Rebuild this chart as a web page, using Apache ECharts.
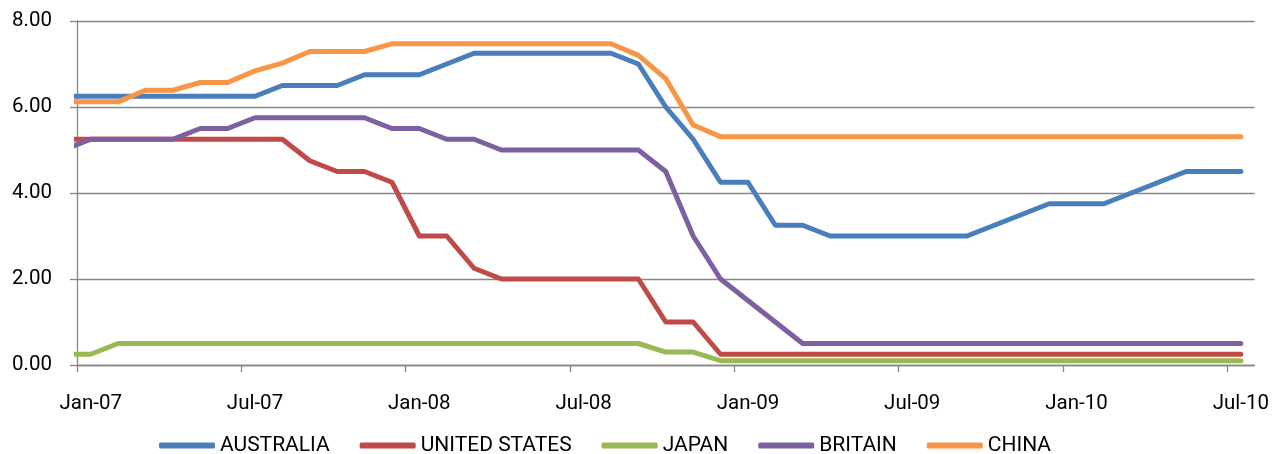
<!DOCTYPE html>
<html>
<head>
<meta charset="utf-8">
<script src="https://cdn.jsdelivr.net/npm/echarts@6/dist/echarts.min.js"></script>
<style>
  html, body { margin: 0; padding: 0; background: #fff; }
  #main { width: 1272px; height: 454px; }
</style>
</head>
<body>
<div id="main"></div>
<script>
// monthly policy rates, Dec-06 .. Jul-10 (Dec-06 sits left of the axis and is clipped)
const months = [
  'Dec-06',
  'Jan-07', 'Feb-07', 'Mar-07', 'Apr-07', 'May-07', 'Jun-07', 'Jul-07', 'Aug-07', 'Sep-07', 'Oct-07', 'Nov-07', 'Dec-07',
  'Jan-08', 'Feb-08', 'Mar-08', 'Apr-08', 'May-08', 'Jun-08', 'Jul-08', 'Aug-08', 'Sep-08', 'Oct-08', 'Nov-08', 'Dec-08',
  'Jan-09', 'Feb-09', 'Mar-09', 'Apr-09', 'May-09', 'Jun-09', 'Jul-09', 'Aug-09', 'Sep-09', 'Oct-09', 'Nov-09', 'Dec-09',
  'Jan-10', 'Feb-10', 'Mar-10', 'Apr-10', 'May-10', 'Jun-10', 'Jul-10'
]

const australia = [
  6.25,
  6.25, 6.25, 6.25, 6.25, 6.25, 6.25, 6.25, 6.50, 6.50, 6.50, 6.75, 6.75,
  6.75, 7.00, 7.25, 7.25, 7.25, 7.25, 7.25, 7.25, 7.00, 6.00, 5.25, 4.25,
  4.25, 3.25, 3.25, 3.00, 3.00, 3.00, 3.00, 3.00, 3.00, 3.25, 3.50, 3.75,
  3.75, 3.75, 4.00, 4.25, 4.50, 4.50, 4.50
]
const unitedStates = [
  5.25,
  5.25, 5.25, 5.25, 5.25, 5.25, 5.25, 5.25, 5.25, 4.75, 4.50, 4.50, 4.25,
  3.00, 3.00, 2.25, 2.00, 2.00, 2.00, 2.00, 2.00, 2.00, 1.00, 1.00, 0.25,
  0.25, 0.25, 0.25, 0.25, 0.25, 0.25, 0.25, 0.25, 0.25, 0.25, 0.25, 0.25,
  0.25, 0.25, 0.25, 0.25, 0.25, 0.25, 0.25
]
const japan = [
  0.25,
  0.25, 0.50, 0.50, 0.50, 0.50, 0.50, 0.50, 0.50, 0.50, 0.50, 0.50, 0.50,
  0.50, 0.50, 0.50, 0.50, 0.50, 0.50, 0.50, 0.50, 0.50, 0.30, 0.30, 0.10,
  0.10, 0.10, 0.10, 0.10, 0.10, 0.10, 0.10, 0.10, 0.10, 0.10, 0.10, 0.10,
  0.10, 0.10, 0.10, 0.10, 0.10, 0.10, 0.10
]
const britain = [
  5.00,
  5.25, 5.25, 5.25, 5.25, 5.50, 5.50, 5.75, 5.75, 5.75, 5.75, 5.75, 5.50,
  5.50, 5.25, 5.25, 5.00, 5.00, 5.00, 5.00, 5.00, 5.00, 4.50, 3.00, 2.00,
  1.50, 1.00, 0.50, 0.50, 0.50, 0.50, 0.50, 0.50, 0.50, 0.50, 0.50, 0.50,
  0.50, 0.50, 0.50, 0.50, 0.50, 0.50, 0.50
]
const china = [
  6.12,
  6.12, 6.12, 6.39, 6.39, 6.57, 6.57, 6.84, 7.02, 7.29, 7.29, 7.29, 7.47,
  7.47, 7.47, 7.47, 7.47, 7.47, 7.47, 7.47, 7.47, 7.20, 6.66, 5.58, 5.31,
  5.31, 5.31, 5.31, 5.31, 5.31, 5.31, 5.31, 5.31, 5.31, 5.31, 5.31, 5.31,
  5.31, 5.31, 5.31, 5.31, 5.31, 5.31, 5.31
]

const seriesNames = ['AUSTRALIA', 'UNITED STATES', 'JAPAN', 'BRITAIN', 'CHINA']
const tickLabels = ['Jan-07', 'Jul-07', 'Jan-08', 'Jul-08', 'Jan-09', 'Jul-09', 'Jan-10', 'Jul-10']

const colors = ['#4A7EBB', '#BE4B48', '#98B954', '#7D60A0', '#F79646']
const font = 'Roboto'

// x = months since 1 Jan 2007, each point drawn at the middle of its month
const toPoints = (vals) => vals.map((v, i) => [i - 0.5, v])

const chart = echarts.init(document.getElementById('main'), null, { renderer: 'canvas' })

const tickPos = tickLabels.map((_, i) => i * 6)
const labelPos = tickLabels.map((_, i) => i * 6 + 0.5)

const option = {
  backgroundColor: '#fff',
  animation: false,
  color: colors,
  grid: {
    left: 77,
    right: 16,
    top: 21,
    bottom: 89
  },
  legend: {
    left: 154,
    top: 430,
    icon: 'roundRect',
    itemWidth: 56,
    itemHeight: 6,
    itemGap: 30,
    textStyle: {
      fontFamily: font,
      fontSize: 21,
      color: '#000'
    },
    data: seriesNames
  },
  xAxis: {
    type: 'value',
    min: 0,
    max: 43,
    splitLine: { show: false },
    axisLine: {
      lineStyle: { color: '#868686', width: 1.3 }
    },
    axisTick: {
      customValues: tickPos,
      length: 7,
      lineStyle: { color: '#868686', width: 1.3 }
    },
    axisLabel: {
      customValues: labelPos,
      margin: 28,
      color: '#000',
      fontFamily: font,
      fontSize: 20.5,
      formatter: (val) => tickLabels[Math.round((val - 0.5) / 6)]
    }
  },
  yAxis: {
    type: 'value',
    min: 0,
    max: 8,
    interval: 2,
    axisLine: {
      show: true,
      lineStyle: { color: '#868686', width: 1.3 }
    },
    axisTick: {
      show: true,
      length: 7,
      lineStyle: { color: '#868686', width: 1.3 }
    },
    splitLine: {
      lineStyle: { color: '#868686', width: 1.3 }
    },
    axisLabel: {
      margin: 25,
      color: '#000',
      fontFamily: font,
      fontSize: 20.5,
      formatter: (val) => val.toFixed(2)
    }
  },
  series: [australia, unitedStates, japan, britain, china].map((vals, i) => ({
    name: seriesNames[i],
    type: 'line',
    data: toPoints(vals),
    symbol: 'none',
    clip: true,
    lineStyle: {
      color: colors[i],
      width: 5,
      cap: 'round',
      join: 'round'
    },
    itemStyle: { color: colors[i] }
  }))
}

chart.setOption(option)
</script>
</body>
</html>
